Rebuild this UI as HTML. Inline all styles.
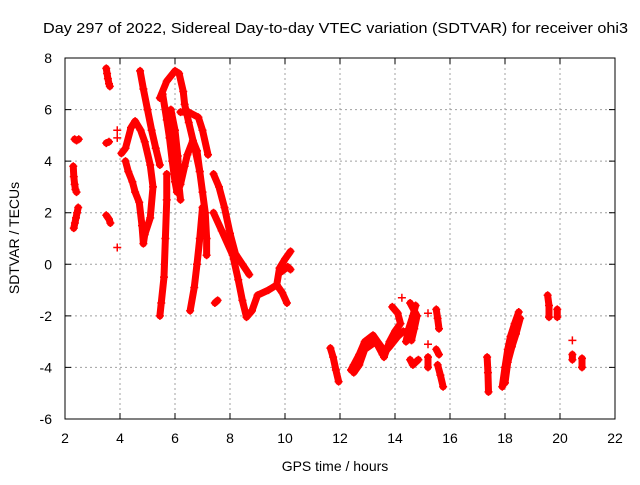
<!DOCTYPE html>
<html><head><meta charset="utf-8"><style>
body{margin:0;background:#fff;font-family:"Liberation Sans",sans-serif}
svg text{font-family:"Liberation Sans",sans-serif;font-size:14px;fill:#000}
</style></head><body>
<svg id="chart" width="640" height="480" xmlns="http://www.w3.org/2000/svg">
<text x="43" y="33" textLength="585" lengthAdjust="spacingAndGlyphs" style="font-size:15px">Day 297 of 2022, Sidereal Day-to-day VTEC variation (SDTVAR) for receiver ohi3</text>
<text x="335" y="471" text-anchor="middle">GPS time / hours</text>
<text x="0" y="0" text-anchor="middle" transform="translate(19,238) rotate(-90)">SDTVAR / TECUs</text>
<g id="grid"></g><g id="ticks"></g><g id="marks"></g>
<rect x="65" y="58" width="550" height="361" fill="none" stroke="#000" stroke-width="1"/>
</svg>
<script>
const xTicks=[2,4,6,8,10,12,14,16,18,20,22];
const yTicks=[-6,-4,-2,0,2,4,6,8];
const track01=[[2.32,1.4],[2.36,1.6],[2.4,1.8],[2.44,2.0],[2.48,2.2]];
const track02=[[2.3,3.8],[2.32,3.4],[2.35,3.1],[2.38,2.9],[2.42,2.8]];
const track03=[[2.35,4.85],[2.42,4.8],[2.5,4.85]];
const track04=[[3.5,7.6],[3.53,7.4],[3.56,7.2],[3.6,7.0],[3.63,6.9]];
const track05=[[3.5,4.7],[3.6,4.75]];
const track06=[[3.5,1.9],[3.6,1.75],[3.65,1.6]];
const track07=[[3.9,5.2]];
const track08=[[3.9,4.9]];
const track09=[[3.9,0.65]];
const track10=[[4.05,4.3],[4.2,4.5],[4.4,5.3],[4.55,5.55],[4.75,5.2],[4.9,4.75],[5.1,3.85],[5.2,3.0],[5.1,1.8],[4.9,1.15],[4.85,0.8],[4.8,1.5],[4.7,2.4],[4.55,2.8],[4.45,3.2],[4.3,3.6],[4.2,4.0]];
const track11=[[4.73,7.5],[4.85,6.8],[5.0,6.0],[5.15,5.2],[5.3,4.5],[5.45,3.85]];
const track12=[[5.7,3.5],[5.7,2.5],[5.65,1.0],[5.6,-0.5],[5.5,-1.5],[5.45,-2.0]];
const track13=[[5.45,6.45],[5.7,7.1],[6.0,7.5],[6.15,7.4],[6.3,6.7],[6.35,6.2],[6.5,5.5],[6.7,4.6],[6.9,3.6]];
const track14=[[5.55,6.6],[5.7,5.6],[5.8,4.9],[5.9,4.0],[6.0,3.2],[6.07,2.8],[6.2,3.1],[6.35,3.8],[6.45,4.25],[6.65,4.8],[6.8,4.4],[6.9,3.6],[7.0,2.8],[7.1,2.0],[7.15,1.0],[7.15,0.35]];
const track15=[[6.2,5.9],[6.5,5.9],[6.85,5.7],[7.0,5.2],[7.2,4.25]];
const track16=[[7.0,2.2],[6.9,1.0],[6.8,0.0],[6.7,-0.9],[6.55,-1.8]];
const track17=[[5.85,6.0],[6.0,5.2],[6.1,4.2],[6.15,3.0],[6.2,2.5]];
const track18=[[7.4,3.5],[7.6,3.0],[7.8,2.2],[8.0,1.2],[8.2,0.4],[8.45,0.0],[8.7,-0.4]];
const track19=[[7.4,2.0],[7.7,1.3],[8.1,0.35],[8.3,-0.6],[8.45,-1.4],[8.6,-2.05],[8.8,-1.8],[9.0,-1.2],[9.4,-1.0],[9.7,-0.8],[9.8,-0.15],[10.0,0.2],[10.2,0.5]];
const track20=[[9.7,-0.8],[9.9,-1.1],[10.07,-1.5]];
const track21=[[9.85,-0.3],[10.1,-0.1],[10.2,-0.2]];
const track22=[[7.45,-1.5],[7.55,-1.4]];
const track23=[[11.65,-3.25],[11.75,-3.6],[11.85,-4.1],[11.95,-4.55]];
const track24=[[12.4,-4.1],[12.5,-3.9],[12.7,-3.5],[12.9,-3.0],[13.2,-2.75],[13.5,-3.2],[13.6,-3.6],[13.8,-3.0],[14.0,-2.6],[14.2,-2.3],[14.1,-1.9],[13.9,-1.65]];
const track24b=[[12.5,-4.2],[12.7,-3.9],[12.9,-3.3],[13.3,-3.0],[13.55,-3.5],[13.8,-3.2],[14.1,-2.8],[14.3,-2.6]];
const track25=[[14.25,-1.3]];
const track26=[[14.55,-1.5],[14.8,-2.0],[14.7,-2.5],[14.6,-2.95]];
const track26b=[[14.4,-3.0],[14.5,-2.5],[14.65,-2.0],[14.75,-1.6]];
const track27=[[14.55,-3.7],[14.65,-3.9],[14.85,-3.7]];
const track28=[[15.2,-1.9]];
const track29=[[15.2,-3.1]];
const track30=[[15.2,-3.6],[15.2,-4.0]];
const track31=[[15.5,-1.75],[15.55,-2.1],[15.6,-2.5]];
const track32=[[15.5,-3.3],[15.6,-3.5]];
const track33=[[15.55,-3.9],[15.65,-4.3],[15.75,-4.75]];
const track34=[[17.35,-3.6],[17.38,-4.2],[17.4,-4.95]];
const track35=[[17.9,-4.75],[18.0,-4.0],[18.1,-3.3],[18.2,-2.8],[18.35,-2.3],[18.5,-1.85]];
const track35b=[[18.0,-4.6],[18.1,-3.8],[18.25,-3.2],[18.4,-2.7],[18.55,-2.1]];
const track36=[[19.55,-1.2],[19.6,-1.6],[19.6,-2.05]];
const track37=[[19.9,-1.75],[19.9,-2.05]];
const track38=[[20.45,-2.95]];
const track39=[[20.45,-3.5],[20.45,-3.7]];
const track40=[[20.8,-3.65],[20.8,-4.0]];
const tracks=[track01,track02,track03,track04,track05,track06,track07,track08,track09,track10,track11,track12,track13,track14,track15,track16,track17,track18,track19,track20,track21,track22,track23,track24,track24b,track25,track26,track26b,track27,track28,track29,track30,track31,track32,track33,track34,track35,track35b,track36,track37,track38,track39,track40];

const NS="http://www.w3.org/2000/svg";
function xs(h){return 65+(h-2)*27.5;}
function ys(v){return 419-(v+6)*(361/14);}
const grid=document.getElementById('grid'),ticks=document.getElementById('ticks'),marks=document.getElementById('marks');
xTicks.forEach(t=>{
  const x=xs(t);
  if(t>2&&t<22){const g=document.createElementNS(NS,'line');
  
  
  g.setAttribute('x1',x);g.setAttribute('x2',x);g.setAttribute('y1',58);g.setAttribute('y2',419);
  g.setAttribute('stroke','#a0a0a0');g.setAttribute('stroke-dasharray','2,3');grid.appendChild(g);}
  const tk=document.createElementNS(NS,'path');
  
  
  tk.setAttribute('d',`M${x},419v-6M${x},58v6`);tk.setAttribute('stroke','#000');ticks.appendChild(tk);
  const lb=document.createElementNS(NS,'text');
  
  
  lb.setAttribute('x',x);lb.setAttribute('y',443);lb.setAttribute('text-anchor','middle');lb.textContent=t;ticks.appendChild(lb);
});
yTicks.forEach(t=>{
  const y=ys(t);
  if(t>-6&&t<8){const g=document.createElementNS(NS,'line');
  
  
  g.setAttribute('x1',65);g.setAttribute('x2',615);g.setAttribute('y1',y);g.setAttribute('y2',y);
  g.setAttribute('stroke','#a0a0a0');g.setAttribute('stroke-dasharray','2,3');grid.appendChild(g);}
  const tk=document.createElementNS(NS,'path');
  
  
  tk.setAttribute('d',`M65,${y}h6M615,${y}h-6`);tk.setAttribute('stroke','#000');ticks.appendChild(tk);
  const lb=document.createElementNS(NS,'text');
  
  
  lb.setAttribute('x',52);lb.setAttribute('y',y+5);lb.setAttribute('text-anchor','end');lb.textContent=t;ticks.appendChild(lb);
});
tracks.forEach(tr=>{
  if(tr.length>1){
    const pl=document.createElementNS(NS,'polyline');
    
    
    pl.setAttribute('points',tr.map(p=>xs(p[0])+','+ys(p[1])).join(' '));
    pl.setAttribute('fill','none');pl.setAttribute('stroke','#f00');pl.setAttribute('stroke-width','7');
    pl.setAttribute('stroke-linejoin','round');pl.setAttribute('stroke-linecap','round');
    marks.appendChild(pl);
  }
  tr.forEach(p=>{
    const m=document.createElementNS(NS,'path');
    
    
    const x=xs(p[0]),y=ys(p[1]);
    m.setAttribute('d',`M${x-4},${y}h8M${x},${y-4}v8`);m.setAttribute('stroke','#f00');m.setAttribute('stroke-width','1.5');
    marks.appendChild(m);
  });
});
</script>
</body></html>
